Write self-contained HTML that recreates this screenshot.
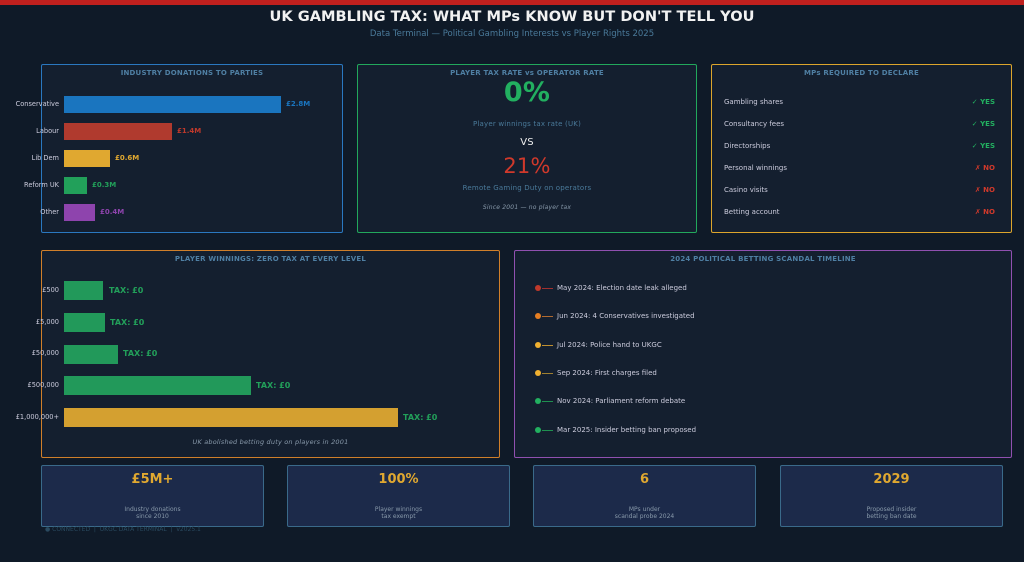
<!DOCTYPE html>
<html><head><meta charset="utf-8"><style>
*{margin:0;padding:0;box-sizing:border-box}
body{width:1024px;height:562px;background:#0f1a28;font-family:"DejaVu Sans","Liberation Sans",sans-serif;position:relative;overflow:hidden;color:#ccd}
.a{position:absolute}
.p{position:absolute;background:#141f2f;border:1.5px solid;border-radius:2px}
.t{position:absolute;left:0;right:0;text-align:center;font-size:7px;font-weight:bold;color:#4f7fa3;letter-spacing:.2px}
.bar{position:absolute;height:17px}
.lb{position:absolute;font-size:6.6px;color:#ccd;text-align:right;width:56px}
.v{position:absolute;font-size:7px;font-weight:bold}
.row{position:absolute;left:12px;right:16px;font-size:7px;color:#ccd}
.row span{position:absolute;right:0;font-weight:bold}
.card{position:absolute;top:465px;height:62px;width:223px;background:#1c2a4a;border:1.5px solid #3a6a8a;border-radius:2px;text-align:center}
.card b{display:block;margin-top:6px;color:#e0a830;font-size:13px}
.card i{display:block;margin-top:19px;font-style:normal;font-size:6px;color:#8899aa;line-height:7px}
.tl{position:absolute;left:20px;font-size:7px;color:#ccd;height:8px;line-height:8px}
.tl .d{position:absolute;left:0;top:1px;width:6px;height:6px;border-radius:50%}
.tl .l{position:absolute;left:7px;top:3.5px;width:11px;height:1px}
.tl .x{position:absolute;left:22px;white-space:nowrap}
</style></head><body>
<div class="a" style="left:0;top:0;width:1024px;height:5px;background:#c0201e"></div>
<div class="a" style="left:0;width:1024px;top:8px;text-align:center;font-size:14.6px;font-weight:bold;color:#f2f2f2">UK GAMBLING TAX: WHAT MPs KNOW BUT DON'T TELL YOU</div>
<div class="a" style="left:0;width:1024px;top:29px;text-align:center;font-size:8.5px;color:#4a7a9a">Data Terminal — Political Gambling Interests vs Player Rights 2025</div>

<div class="p" style="left:41px;top:64px;width:302px;height:169px;border-color:#2a78c0">
<div class="t" style="top:4px">INDUSTRY DONATIONS TO PARTIES</div></div>
<div class="lb" style="left:3px;top:100px">Conservative</div><div class="bar" style="left:64px;top:96px;width:217px;background:#1a75bf"></div><div class="v" style="left:286px;top:100px;color:#1a75bf">£2.8M</div>
<div class="lb" style="left:3px;top:127px">Labour</div><div class="bar" style="left:64px;top:123px;width:108px;background:#b03a2e"></div><div class="v" style="left:177px;top:127px;color:#c0392b">£1.4M</div>
<div class="lb" style="left:3px;top:154px">Lib Dem</div><div class="bar" style="left:64px;top:150px;width:46px;background:#e0a830"></div><div class="v" style="left:115px;top:154px;color:#e0a830">£0.6M</div>
<div class="lb" style="left:3px;top:181px">Reform UK</div><div class="bar" style="left:64px;top:177px;width:23px;background:#22a05a"></div><div class="v" style="left:92px;top:181px;color:#22a05a">£0.3M</div>
<div class="lb" style="left:3px;top:208px">Other</div><div class="bar" style="left:64px;top:204px;width:31px;background:#8e44ad"></div><div class="v" style="left:100px;top:208px;color:#8e44ad">£0.4M</div>

<div class="p" style="left:357px;top:64px;width:340px;height:169px;border-color:#22a85c">
<div class="t" style="top:4px">PLAYER TAX RATE vs OPERATOR RATE</div>
<div class="t" style="top:12px;font-size:27px;color:#22b060">0%</div>
<div class="t" style="top:55px;font-weight:normal;color:#4a7a9a">Player winnings tax rate (UK)</div>
<div class="t" style="top:72px;font-weight:normal;font-size:10px;color:#eee">VS</div>
<div class="t" style="top:89px;font-size:21px;font-weight:normal;color:#d0392b">21%</div>
<div class="t" style="top:119px;font-weight:normal;color:#4a7a9a">Remote Gaming Duty on operators</div>
<div class="t" style="top:139px;font-weight:normal;font-style:italic;font-size:6px;color:#8899aa">Since 2001 — no player tax</div></div>

<div class="p" style="left:711px;top:64px;width:301px;height:169px;border-color:#dca52c">
<div class="t" style="top:4px">MPs REQUIRED TO DECLARE</div>
<div class="row" style="top:33px">Gambling shares<span style="color:#22b060">✓ YES</span></div>
<div class="row" style="top:55px">Consultancy fees<span style="color:#22b060">✓ YES</span></div>
<div class="row" style="top:77px">Directorships<span style="color:#22b060">✓ YES</span></div>
<div class="row" style="top:99px">Personal winnings<span style="color:#d0392b">✗ NO</span></div>
<div class="row" style="top:121px">Casino visits<span style="color:#d0392b">✗ NO</span></div>
<div class="row" style="top:143px">Betting account<span style="color:#d0392b">✗ NO</span></div></div>

<div class="p" style="left:41px;top:250px;width:459px;height:208px;border-color:#d07f2a">
<div class="t" style="top:4px">PLAYER WINNINGS: ZERO TAX AT EVERY LEVEL</div>
<div class="t" style="top:187px;font-weight:normal;font-style:italic;font-size:6.5px;color:#8899aa">UK abolished betting duty on players in 2001</div></div>
<div class="lb" style="left:3px;top:286px">£500</div><div class="bar" style="left:64px;top:281px;width:39px;height:19px;background:#22995a"></div><div class="v" style="left:109px;top:286px;font-size:8px;color:#22a05a">TAX: £0</div>
<div class="lb" style="left:3px;top:318px">£5,000</div><div class="bar" style="left:64px;top:313px;width:41px;height:19px;background:#22995a"></div><div class="v" style="left:110px;top:318px;font-size:8px;color:#22a05a">TAX: £0</div>
<div class="lb" style="left:3px;top:349px">£50,000</div><div class="bar" style="left:64px;top:345px;width:54px;height:19px;background:#22995a"></div><div class="v" style="left:123px;top:349px;font-size:8px;color:#22a05a">TAX: £0</div>
<div class="lb" style="left:3px;top:381px">£500,000</div><div class="bar" style="left:64px;top:376px;width:187px;height:19px;background:#22995a"></div><div class="v" style="left:256px;top:381px;font-size:8px;color:#22a05a">TAX: £0</div>
<div class="lb" style="left:3px;top:413px">£1,000,000+</div><div class="bar" style="left:64px;top:408px;width:334px;height:19px;background:#d4a030"></div><div class="v" style="left:403px;top:413px;font-size:8px;color:#22a05a">TAX: £0</div>

<div class="p" style="left:514px;top:250px;width:498px;height:208px;border-color:#9050b0">
<div class="t" style="top:4px">2024 POLITICAL BETTING SCANDAL TIMELINE</div>
<div class="tl" style="top:33px"><div class="d" style="background:#c0392b"></div><div class="l" style="background:#a03030"></div><div class="x">May 2024: Election date leak alleged</div></div>
<div class="tl" style="top:61px"><div class="d" style="background:#e67e22"></div><div class="l" style="background:#b06a30"></div><div class="x">Jun 2024: 4 Conservatives investigated</div></div>
<div class="tl" style="top:90px"><div class="d" style="background:#f0b030"></div><div class="l" style="background:#c09030"></div><div class="x">Jul 2024: Police hand to UKGC</div></div>
<div class="tl" style="top:118px"><div class="d" style="background:#f0b030"></div><div class="l" style="background:#a08030"></div><div class="x">Sep 2024: First charges filed</div></div>
<div class="tl" style="top:146px"><div class="d" style="background:#22b060"></div><div class="l" style="background:#1f9050"></div><div class="x">Nov 2024: Parliament reform debate</div></div>
<div class="tl" style="top:175px"><div class="d" style="background:#22b060"></div><div class="l" style="background:#1f9050"></div><div class="x">Mar 2025: Insider betting ban proposed</div></div></div>

<div class="card" style="left:41px"><b>£5M+</b><i>Industry donations<br>since 2010</i></div>
<div class="card" style="left:287px"><b>100%</b><i>Player winnings<br>tax exempt</i></div>
<div class="card" style="left:533px"><b>6</b><i>MPs under<br>scandal probe 2024</i></div>
<div class="card" style="left:780px"><b>2029</b><i>Proposed insider<br>betting ban date</i></div>
<div class="a" style="left:45px;top:526px;font-size:6px;color:#2a4a60">● CONNECTED &nbsp;|&nbsp; UKGC DATA TERMINAL &nbsp;|&nbsp; v2025.1</div>
</body></html>
